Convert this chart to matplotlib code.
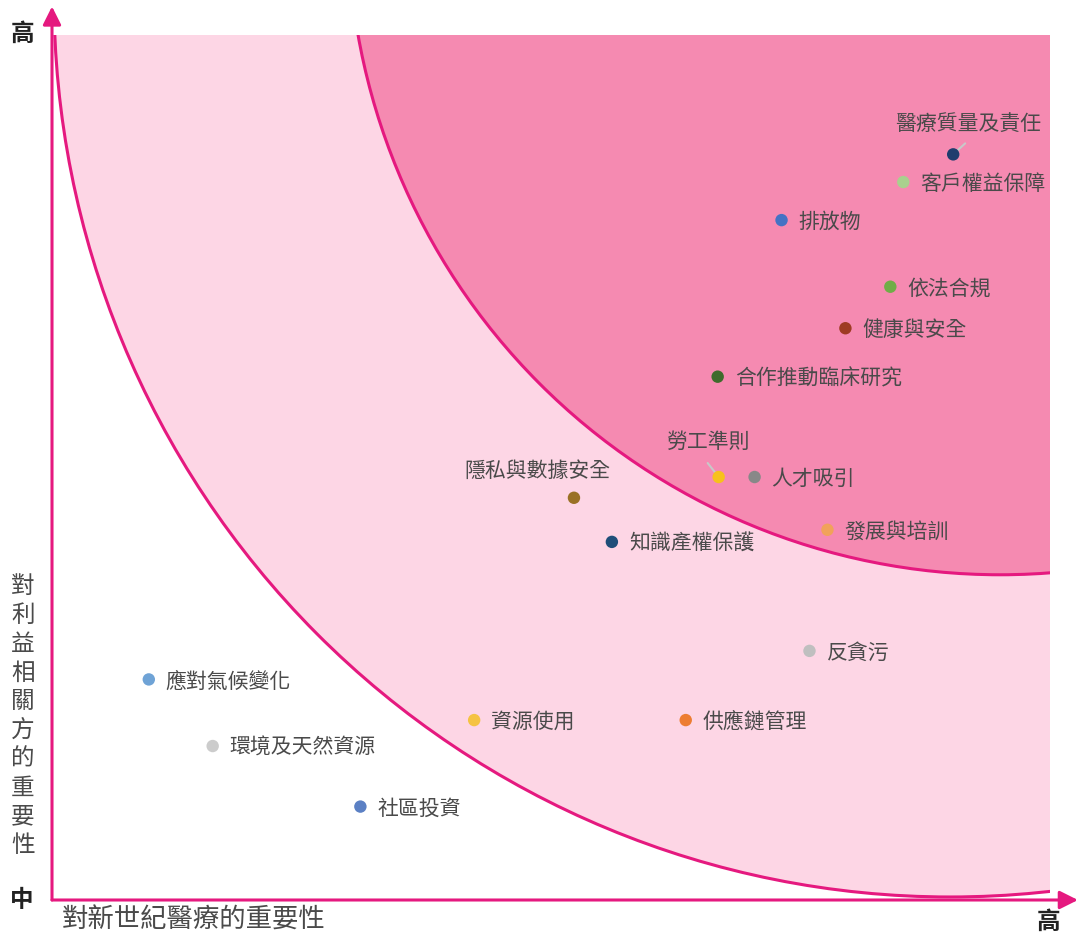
import matplotlib
matplotlib.use('agg')
import matplotlib.pyplot as plt
from matplotlib.patches import Ellipse, Rectangle

plt.rcParams['font.family'] = ['Noto Sans CJK TC', 'DejaVu Sans']

# topics, positions (0-100 on both axes), dot colours
topics = ['醫療質量及責任', '客戶權益保障', '排放物', '依法合規', '健康與安全',
          '合作推動臨床研究', '勞工準則', '人才吸引', '隱私與數據安全', '發展與培訓',
          '知識產權保護', '反貪污', '應對氣候變化', '資源使用', '供應鏈管理',
          '環境及天然資源', '社區投資']
x_vals = [90.3, 85.3, 73.1, 84.0, 79.5, 66.7, 66.8, 70.4, 52.3, 77.7,
          56.1, 75.9, 9.7, 42.3, 63.5, 16.1, 30.9]
y_vals = [86.2, 83.0, 78.6, 70.9, 66.1, 60.5, 48.9, 48.9, 46.5, 42.8,
          41.4, 28.8, 25.5, 20.8, 20.8, 17.8, 10.8]
colors = ['#1f3d6e', '#a9d08e', '#4472c4', '#70ad47', '#9e3b23',
          '#3f6b2c', '#f7c11b', '#888888', '#9a7125', '#f1a25a',
          '#1f4e79', '#bfbfbf', '#6fa3d6', '#f5c342', '#ed7d31',
          '#cccccc', '#5b80c4']

x_title = '對新世紀醫療的重要性'
y_title = '對利益相關方的重要性'

magenta = '#e5197f'
light_pink = '#fdd6e5'
dark_pink = '#f58ab1'
text_col = '#4a4a4a'

fig = plt.figure(figsize=(10.79, 9.36), dpi=100)
ax = fig.add_axes([52 / 1079, 36 / 936, 998 / 1079, 865 / 936])
ax.set_xlim(0, 100)
ax.set_ylim(0, 100)
ax.set_axis_off()

clip = Rectangle((0, 0), 100, 100, transform=ax.transData)

outer = Ellipse((90.0, 104.4), 179.6, 208.1, facecolor=light_pink,
                edgecolor=magenta, linewidth=2.2, zorder=1)
ax.add_patch(outer)
outer.set_clip_path(clip)

inner = Ellipse((95.0, 113.3), 130.7, 151.4, facecolor=dark_pink,
                edgecolor=magenta, linewidth=2.2, zorder=2)
ax.add_patch(inner)
inner.set_clip_path(clip)

ax.scatter(x_vals, y_vals, s=80, c=colors, zorder=4, linewidths=0)

for name, x, y in zip(topics, x_vals, y_vals):
    if name == '醫療質量及責任':
        ax.annotate('', xy=(x, y), xytext=(12, 11), textcoords='offset pixels',
                    arrowprops=dict(arrowstyle='-', color='#c8c8c8', lw=1.5,
                                    shrinkA=0, shrinkB=0), zorder=3)
        ax.annotate(name, xy=(x, y), xytext=(15, 30), textcoords='offset pixels',
                    ha='center', va='center', fontsize=15, color=text_col, zorder=5)
    elif name == '勞工準則':
        ax.annotate('', xy=(x, y), xytext=(-11, 14), textcoords='offset pixels',
                    arrowprops=dict(arrowstyle='-', color='#c8c8c8', lw=1.5,
                                    shrinkA=0, shrinkB=0), zorder=3)
        ax.annotate(name, xy=(x, y), xytext=(-11, 35), textcoords='offset pixels',
                    ha='center', va='center', fontsize=15, color=text_col, zorder=5)
    elif name == '隱私與數據安全':
        ax.annotate(name, xy=(x, y), xytext=(-37, 27), textcoords='offset pixels',
                    ha='center', va='center', fontsize=15, color=text_col, zorder=5)
    else:
        ax.annotate(name, xy=(x, y), xytext=(17, -2), textcoords='offset pixels',
                    ha='left', va='center', fontsize=15, color=text_col, zorder=5)

# axis arrows
ax.annotate('', xy=(0, 1.033), xytext=(0, 0), xycoords='axes fraction',
            arrowprops=dict(arrowstyle='-|>,head_length=1.1,head_width=0.55',
                            color=magenta, lw=2.2, shrinkA=0, shrinkB=0),
            annotation_clip=False)
ax.annotate('', xy=(1.028, 0), xytext=(0, 0), xycoords='axes fraction',
            arrowprops=dict(arrowstyle='-|>,head_length=1.1,head_width=0.55',
                            color=magenta, lw=2.2, shrinkA=0, shrinkB=0),
            annotation_clip=False)

# end labels
fig.text(22 / 1079, 1 - 34 / 936, '高', ha='center', va='center',
         fontsize=17, fontweight='bold', color='#222222')
fig.text(22 / 1079, 1 - 900 / 936, '中', ha='center', va='center',
         fontsize=17, fontweight='bold', color='#222222')
fig.text(1048 / 1079, 1 - 922 / 936, '高', ha='center', va='center',
         fontsize=17, fontweight='bold', color='#222222')

fig.text(62 / 1079, 1 - 920 / 936, x_title, ha='left', va='center',
         fontsize=19, color=text_col)
fig.text(23 / 1079, 1 - 716 / 936, '\n'.join(y_title), ha='center', va='center',
         fontsize=17, color=text_col, linespacing=1.32)

fig.savefig('out.png', dpi=100)
